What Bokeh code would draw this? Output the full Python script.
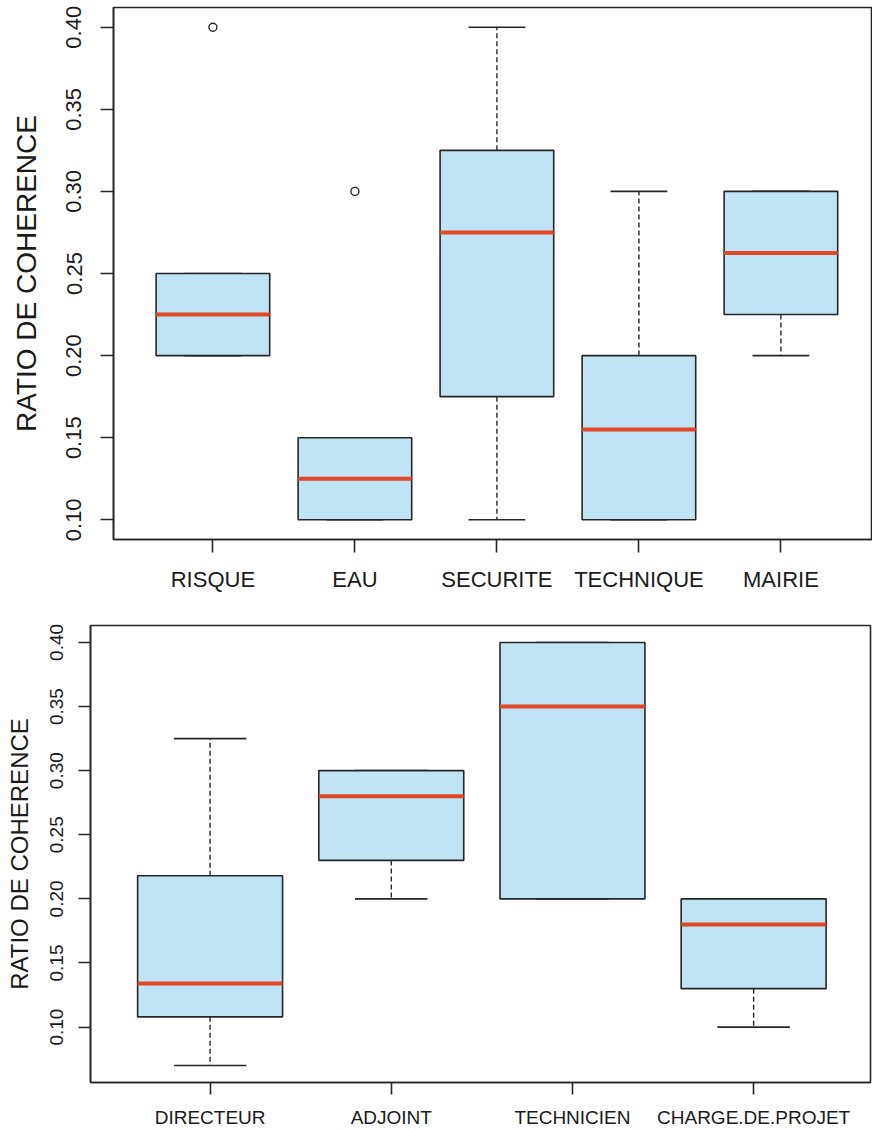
from bokeh.plotting import figure
from bokeh.models import FixedTicker, NumeralTickFormatter, Range1d
from bokeh.embed import file_html
from bokeh.resources import INLINE

# ---------------- data ----------------
# top panel: by service
cats_top = ["RISQUE", "EAU", "SECURITE", "TECHNIQUE", "MAIRIE"]
low_top = [0.20, 0.10, 0.10, 0.10, 0.20]
q1_top = [0.20, 0.10, 0.175, 0.10, 0.225]
med_top = [0.225, 0.125, 0.275, 0.155, 0.2625]
q3_top = [0.25, 0.15, 0.325, 0.20, 0.30]
high_top = [0.25, 0.15, 0.40, 0.30, 0.30]
out_cat_top = ["RISQUE", "EAU"]
out_val_top = [0.40, 0.30]

# bottom panel: by function
cats_bot = ["DIRECTEUR", "ADJOINT", "TECHNICIEN", "CHARGE.DE.PROJET"]
low_bot = [0.07, 0.20, 0.20, 0.10]
q1_bot = [0.108, 0.23, 0.20, 0.13]
med_bot = [0.134, 0.28, 0.35, 0.18]
q3_bot = [0.218, 0.30, 0.40, 0.20]
high_bot = [0.325, 0.30, 0.40, 0.20]
out_cat_bot = []
out_val_bot = []

y_ticks = [0.10, 0.15, 0.20, 0.25, 0.30, 0.35, 0.40]
y_title = "RATIO DE COHERENCE"

FONT = "Liberation Sans"
DARK = "#262626"
BOX_FILL = "#c0e4f4"
MEDIAN = "#e2462b"


def boxplot(cats, low, q1, med, q3, high, out_cat, out_val, *, width, height,
            x_range, y_range, borders, tick_font, title_font, tick_out,
            xlab_standoff, ylab_standoff, title_standoff):
    bl, br, bt, bb = borders
    p = figure(width=width, height=height, x_range=Range1d(*x_range),
               y_range=Range1d(*y_range), output_backend="svg",
               toolbar_location=None, min_border_left=bl, min_border_right=br,
               min_border_top=bt, min_border_bottom=bb)
    p.background_fill_color = "white"
    p.border_fill_color = "white"
    p.outline_line_color = DARK
    p.outline_line_width = 1.6
    p.xgrid.visible = False
    p.ygrid.visible = False

    pos = [i + 1 for i in range(len(cats))]
    bw = 0.4   # half box width (R boxwex 0.8)
    sw = 0.2   # half staple width

    # whiskers (dashed)
    p.segment(x0=pos, x1=pos, y0=q3, y1=high, line_color=DARK,
              line_width=1.4, line_dash="5 3")
    p.segment(x0=pos, x1=pos, y0=q1, y1=low, line_color=DARK,
              line_width=1.4, line_dash="5 3")
    # staples
    p.segment(x0=[x - sw for x in pos], x1=[x + sw for x in pos], y0=high,
              y1=high, line_color=DARK, line_width=1.6)
    p.segment(x0=[x - sw for x in pos], x1=[x + sw for x in pos], y0=low,
              y1=low, line_color=DARK, line_width=1.6)
    # boxes
    p.quad(left=[x - bw for x in pos], right=[x + bw for x in pos],
           bottom=q1, top=q3, fill_color=BOX_FILL, line_color=DARK,
           line_width=1.6)
    # medians
    p.segment(x0=[x - bw for x in pos], x1=[x + bw for x in pos], y0=med,
              y1=med, line_color=MEDIAN, line_width=4)
    # outliers
    if out_cat:
        ox = [cats.index(c) + 1 for c in out_cat]
        p.scatter(x=ox, y=out_val, marker="circle", size=8,
                  fill_color=None, line_color=DARK, line_width=1.4)

    xa = p.xaxis[0]
    xa.ticker = FixedTicker(ticks=pos)
    xa.major_label_overrides = {x: c for x, c in zip(pos, cats)}
    xa.major_label_text_font = FONT
    xa.major_label_text_font_size = f"{tick_font}px"
    xa.major_label_text_color = "#1a1a1a"
    xa.major_label_standoff = xlab_standoff
    xa.major_tick_out = tick_out
    xa.major_tick_in = 0
    xa.minor_tick_out = 0
    xa.minor_tick_in = 0
    xa.major_tick_line_color = DARK
    xa.major_tick_line_width = 1.6
    xa.axis_line_color = DARK
    xa.axis_line_width = 1.6

    ya = p.yaxis[0]
    ya.ticker = FixedTicker(ticks=y_ticks)
    ya.formatter = NumeralTickFormatter(format="0.00")
    ya.major_label_orientation = "vertical"
    ya.major_label_text_font = FONT
    ya.major_label_text_font_size = f"{tick_font}px"
    ya.major_label_text_color = "#1a1a1a"
    ya.major_label_standoff = ylab_standoff
    ya.major_tick_out = tick_out
    ya.major_tick_in = 0
    ya.minor_tick_out = 0
    ya.minor_tick_in = 0
    ya.major_tick_line_color = DARK
    ya.major_tick_line_width = 1.6
    ya.axis_line_color = DARK
    ya.axis_line_width = 1.6
    ya.axis_label = y_title
    ya.axis_label_text_font = FONT
    ya.axis_label_text_font_size = f"{title_font}px"
    ya.axis_label_text_font_style = "normal"
    ya.axis_label_text_color = "#1a1a1a"
    ya.axis_label_standoff = title_standoff
    return p


p_top = boxplot(cats_top, low_top, q1_top, med_top, q3_top, high_top,
                out_cat_top, out_val_top, width=872, height=604,
                x_range=(0.3, 5.645), y_range=(0.088, 0.412),
                borders=(113, 0, 7, 65), tick_font=22, title_font=28,
                tick_out=13, xlab_standoff=14, ylab_standoff=19,
                title_standoff=22)

p_bot = boxplot(cats_bot, low_bot, q1_bot, med_bot, q3_bot, high_bot,
                out_cat_bot, out_val_bot, width=872, height=526,
                x_range=(0.34, 4.645), y_range=(0.0568, 0.4132),
                borders=(90, 2, 21, 47), tick_font=19, title_font=24,
                tick_out=12, xlab_standoff=12, ylab_standoff=15,
                title_standoff=15)

# two independent roots stacked on the page (keeps each frame where it is)
open("out.html", "w").write(file_html([p_top, p_bot], INLINE))
